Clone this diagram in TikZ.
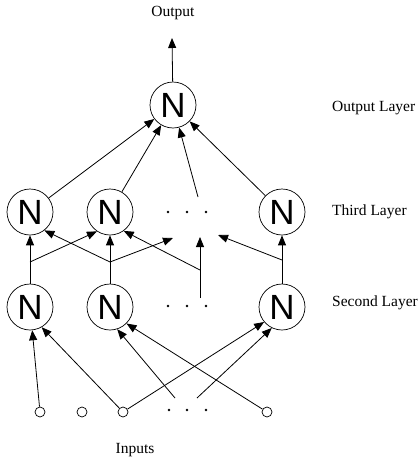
\documentclass[tikz,border=0pt]{standalone}
\usepackage{fontspec}
\setmainfont{Liberation Serif}
\newfontfamily\neuronfont{Liberation Sans}
\usetikzlibrary{arrows.meta}
\usetikzlibrary{positioning}

\begin{document}
\begin{tikzpicture}[x=1pt,y=-1pt,
    neuron/.style={circle,draw,line width=0.7pt,minimum size=46pt,inner sep=0pt,
                   font=\neuronfont\fontsize{35}{35}\selectfont},
    inp/.style={circle,draw,line width=0.7pt,minimum size=10pt,inner sep=0pt},
    dot/.style={circle,fill,minimum size=2.6pt,inner sep=0pt},
    lbl/.style={font=\fontsize{15.5}{18}\selectfont,anchor=west,inner sep=0pt},
    wire/.style={line width=0.8pt},
    link/.style={line width=0.8pt,-{Stealth[length=10pt,width=8pt,inset=0pt]}}]
  \useasboundingbox (0,0) rectangle (418,461);

  % neurons
  \node[neuron] (out) at (173,105) {N};
  \node[neuron] (t1) at (30,212) {N};
  \node[neuron] (t2) at (110,212) {N};
  \node[neuron] (t4) at (282,212) {N};
  \node[neuron] (s1) at (30,307) {N};
  \node[neuron] (s2) at (110,307) {N};
  \node[neuron] (s4) at (282,307) {N};
  \foreach \x in {168,187,206} {
    \node[dot] (tdot\x) at (\x,212) {};
    \node[dot] (sdot\x) at (\x,306) {};
  }

  % inputs
  \node[inp] (i1) at (40,412) {};
  \node[inp] (i2) at (82,412) {};
  \node[inp] (i3) at (123,412) {};
  \node[inp] (i4) at (267,412) {};
  \foreach \x in {169,187,206}
    \node[dot] (idot\x) at (\x,410) {};

  \coordinate (outtip) at (172,38);
  \coordinate (tdtop) at (198,197);
  \coordinate (b1) at (30,262);
  \coordinate (b2) at (110,262);
  \coordinate (bd) at (200,270);
  \coordinate (b4) at (282,260);
  \coordinate (sdtop) at (200,298);
  \coordinate (ta) at (173,238);
  \coordinate (tb) at (200,237);
  \coordinate (tc) at (218,235);
  \coordinate (ia) at (175,398);
  \coordinate (ib) at (197,398);

  \path[link]
    (t1) edge (out)
    (t2) edge (out)
    (tdtop) edge (out)
    (t4) edge (out)
    (out) edge (outtip);

  \draw[wire] (s1) -- (b1) (s2) -- (b2) (sdtop) -- (bd) (s4) -- (b4);
  \path[link]
    (b1) edge (t1.south)
         edge (t2.236)
    (b2) edge (t2.south)
         edge (t1.308)
         edge (ta)
    (bd) edge (t2.306)
         edge (tb)
    (b4) edge (t4.south)
         edge (tc);

  \path[link]
    (i1) edge (s1)
    (i3) edge (s1.300)
         edge (s4.220)
    (ia) edge (s2.288)
    (ib) edge (s4.244)
    (i4) edge (s2.315);

  % labels
  \node[font=\fontsize{15.5}{18}\selectfont] (outlbl) at (173,13) {Output};
  \node[font=\fontsize{15.5}{18}\selectfont] (inlbl) at (135,450) {Inputs};
  \node[lbl] (l4) at (332,108) {Output Layer};
  \node[lbl] (l3) at (332,212) {Third Layer};
  \node[lbl] (l2) at (332,303) {Second Layer};
\end{tikzpicture}
\end{document}
